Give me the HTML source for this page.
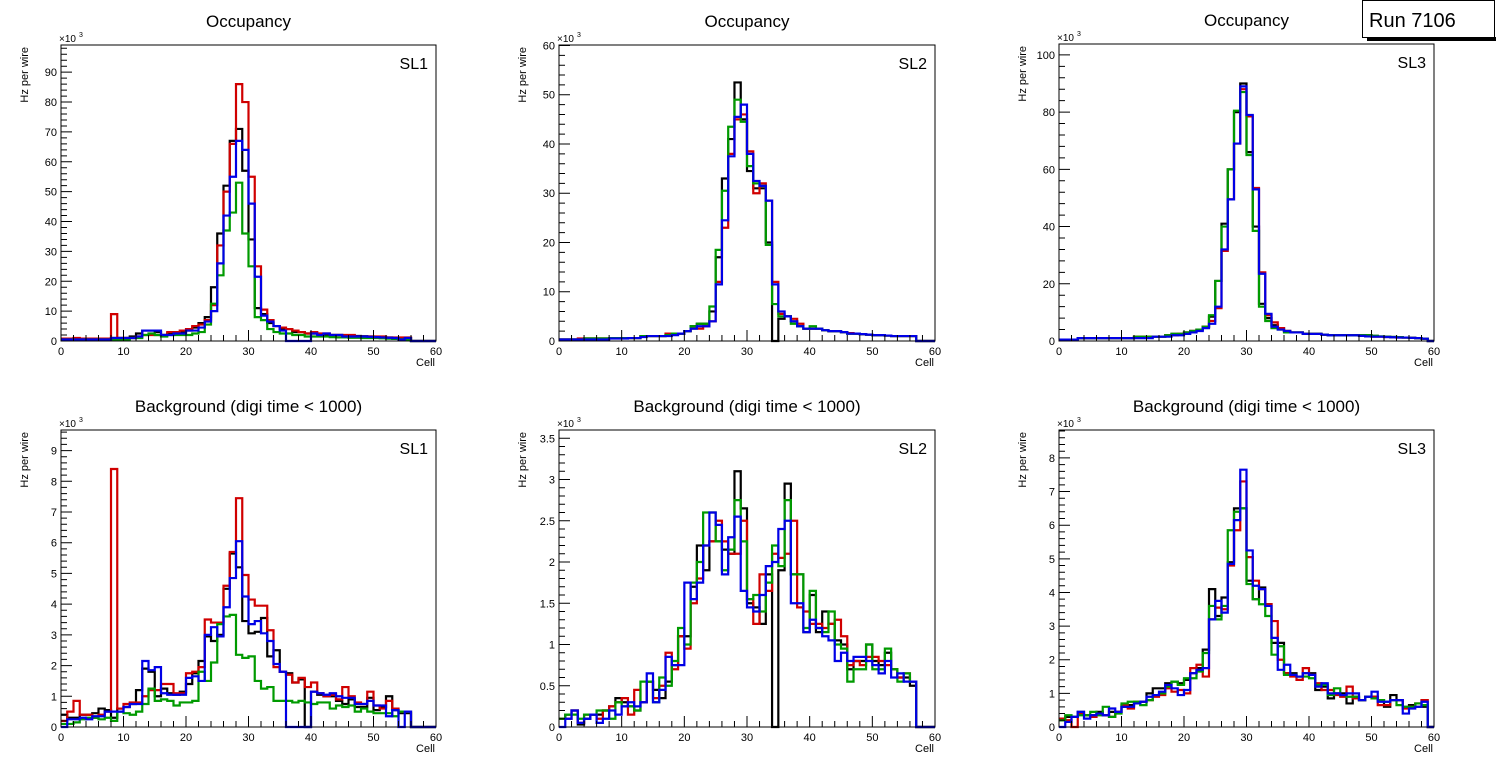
<!DOCTYPE html>
<html><head><meta charset="utf-8"><style>
body{margin:0;background:#fff;}
svg{display:block;font-family:"Liberation Sans",sans-serif;}
</style></head><body>
<svg id="c" width="1496" height="772" viewBox="0 0 1496 772"></svg>
<script>
const nBins = 60;
const xTickLabels = ["0","10","20","30","40","50","60"];
const tlBlack=[0.5,0.5,0.5,0.5,0.5,0.5,0.5,0.8,1,1,1,1.5,2.5,3.5,3.5,3,2,2.5,2.5,3,3.5,4.5,6,8,18,36,52,67,71,57,34,11,9,6,5,4,4,3,3,2.5,2.5,2.3,2.2,2,2,1.9,1.8,1.7,1.6,1.5,1.4,1.3,1.2,1.1,1,1,0,0,0,0];
const tlRed=[0.8,0.8,1,0.8,0.8,0.8,0.8,0.8,9,1,1,1,1.5,2,2,2,2,3,3,3.5,4,5,5.5,7,12,32,50,66,86,80,55,25,10.5,7,5,4.5,4,3.5,3,2.5,3,2.5,2.5,2,2,2,2,1.5,1.5,1.5,1.5,1.5,1.2,1.2,1.2,1.2,0,0,0,0];
const tlGreen=[0.5,0.5,0.5,0.5,0.5,0.5,0.5,0.5,0.5,0.5,0.5,1,1,2,2.5,2,1.5,2,2,2,2,2.5,3,5.5,12.5,22,37,43,53,36,25,8,7,4,3,2.5,2.5,2,2,1.5,1.5,1.5,1.5,1.3,1.2,1.2,1.1,1.1,1,1,1,0.9,0.8,0.7,0.6,0.5,0,0,0,0];
const tlBlue=[0.5,0.5,0.5,0.5,0.5,0.5,0.5,0.5,1,1,1,1,1.5,3.5,3.5,3.5,2,2,2.5,2.5,3.5,3.5,4.5,6.5,10,26,42,55,67,64,46,21.5,8.5,6.5,5,3.5,0,0,0,0,2.5,2,2.5,2,2,1.5,1.5,1.5,1.5,1.4,1.3,1.2,1.1,1,0.5,1,0,0,0,0];
const tmBlack=[0.3,0.3,0.3,0.3,0.5,0.5,0.5,0.5,0.6,0.6,0.6,0.6,0.6,1,1,1,1,1.2,1.5,1.5,2,3,3.5,3.5,6,17,33,41,52.5,45,34.5,31,31,20,0,4.5,5,4,3,2.5,2.5,2.5,2.2,2,2,1.8,1.5,1.5,1.4,1.3,1.2,1.2,1.1,1,1,1,1,0,0,0];
const tmRed=[0.3,0.3,0.3,0.5,0.5,0.5,0.5,0.5,0.6,0.6,0.6,0.6,0.6,1,1,1,1,1.5,1.5,1.5,2,2.5,2.5,3,4,12,23,38,45,46,38.5,30,32,28.5,12,5.5,5,4.5,3.5,2.5,2.5,2.5,2.2,2,2,1.8,1.6,1.5,1.4,1.3,1.2,1.2,1.1,1,1,1,1,0,0,0];
const tmGreen=[0.3,0.3,0.3,0.3,0.5,0.5,0.5,0.5,0.6,0.6,0.6,0.6,0.6,1,1,1,1,1.2,1.5,1.5,2,3,3.5,3.5,7,18.5,30.5,43.5,49,44.5,35.5,32,31.5,19.5,7.5,5,5,3.5,3,2.5,3,2.5,2.2,2,2,1.8,1.5,1.5,1.4,1.3,1.2,1.2,1.1,1,1,1,1,0,0,0];
const tmBlue=[0.3,0.3,0.3,0.3,0.3,0.3,0.3,0.3,0.5,0.5,0.5,0.6,0.6,0.8,1,1,1,1,1.2,1.5,2,2.5,3,3,4,11.5,24.5,37.5,45.5,48,38,32.5,31.5,28.5,11.5,6,5,4,3,2.5,2.5,2.5,2.2,2,2,1.8,1.5,1.5,1.4,1.3,1.2,1.2,1.1,1,1,1,1,0,0,0];
const trBlack=[0.5,0.5,0.5,1,1,1,1,1,1,1,1,1,1.5,1.5,1.5,1.5,1.5,2,2.5,2.5,3,3.5,4,5,8.5,21,41,60,80,90,66,40,13,8,5.5,4.5,3.5,3,3,2.5,2.5,2.5,2.2,2,2,2,2,2,2,2,1.8,1.6,1.5,1.4,1.3,1.2,1.1,1,0.8,0];
const trRed=[0.5,0.5,0.3,1,1,1,1,1,1,1,1,1,1.5,1.5,1.5,1.5,1.5,2,2,2.5,3,3.5,4,5,7,11.5,31.5,49.5,69,88,78.5,53.5,24,9,6.5,4.5,3.5,3,3,2.5,2.5,2.5,2.2,2,2,2,2,2,1.8,1.6,1.5,1.5,1.4,1.3,1.2,1.2,1.1,1,0.8,0];
const trGreen=[0.5,0.5,0.5,1,1,1,1,1,1,1,1,1,1.5,1.5,1.5,1.5,1.5,2,2.5,2.5,3,3.5,4,5,9,21,40,60,80.5,87,65,38.5,12,7,4.5,4,3,3,3,2.5,2.5,2.5,2.2,2,2,2,2,2,2,2,1.8,1.6,1.5,1.4,1.3,1.2,1.1,1,0.8,0];
const trBlue=[0.5,0.5,0.5,1,1,1,1,1,1,1,1,1,1,1,1,1.5,1.5,1.5,2,2,2.5,3,3.5,4.5,6,12,32,49.5,69,89,79,53,23.5,9.5,5,4,3.5,3,3,2.5,2.5,2.5,2.2,2,2,2,2,2,1.8,1.6,1.5,1.5,1.4,1.3,1.2,1.2,1.1,1,0.8,0];
const blBlack=[0.4,0.3,0.3,0.4,0.4,0.45,0.6,0.55,0.3,0.6,0.65,0.75,1.2,1.9,1.8,1.0,1.25,1.1,1.05,1.15,1.4,1.75,2.15,2.95,2.8,3.0,4.5,5.65,5.2,3.45,3.05,3.1,3.55,2.3,2.5,1.8,1.75,1.45,1.55,0,1.15,1.05,1.0,1.0,0.85,0.75,0.9,0.65,0.65,0.95,0.55,0.65,1.0,0.55,0.45,0.45,0,0,0,0];
const blRed=[0.2,0.5,0.85,0.4,0.4,0.3,0.4,0.5,8.4,0.6,0.75,0.8,0.8,1.0,1.2,1.2,1.4,1.4,1.1,1.1,1.75,1.8,1.95,3.5,3.4,3.4,4.6,5.7,7.45,4.95,4.15,3.95,3.95,3.15,1.95,1.8,1.7,1.45,1.6,1.3,1.45,1.1,1.0,1.05,0.9,1.3,1.0,0.8,0.75,1.15,0.7,0.6,0.85,0.6,0.5,0.5,0,0,0,0];
const blGreen=[0.1,0.1,0.15,0.25,0.3,0.3,0.25,0.3,0.2,0.5,0.45,0.4,0.5,0.75,1.25,0.85,0.9,0.85,0.7,0.8,0.8,0.85,1.8,1.5,2.1,3.35,3.6,3.65,2.35,2.25,2.3,1.5,1.25,1.3,0.85,0.85,0.85,0.8,0.85,0.8,0.75,0.8,0.8,0.6,0.7,0.65,0.7,0.5,0.6,0.5,0.45,0.45,0.45,0.35,0.5,0.5,0,0,0,0];
const blBlue=[0,0.25,0.25,0.3,0.25,0.35,0.35,0.5,0.5,0.5,0.65,0.75,0.75,2.15,1.85,1.95,1.1,1.05,1.05,1.05,1.6,1.65,1.5,3.0,3.25,2.95,3.9,4.85,6.05,4.25,3.35,3.45,3.05,2.8,2.05,1.8,0,0,0,0,1.15,1.1,1.05,1.1,1.0,0.95,0.95,0.75,0.75,0.85,0.7,0.7,0.35,0.55,0,0.5,0,0,0,0];
const bmBlack=[0.1,0.15,0.2,0.03,0.1,0.15,0.15,0.2,0.25,0.35,0.3,0.25,0.2,0.3,0.55,0.45,0.35,0.55,0.75,1.1,1.1,1.7,2.2,1.9,2.25,2.25,2.15,2.1,3.1,2.65,1.5,1.45,1.25,1.85,0,1.9,2.95,1.85,1.85,1.15,1.6,1.15,1.4,1.25,1.05,1.0,0.7,0.8,0.8,1.0,0.8,0.75,0.9,0.7,0.6,0.6,0.5,0,0,0];
const bmRed=[0.1,0.1,0.2,0.05,0.15,0.15,0.1,0.2,0.25,0.3,0.35,0.15,0.45,0.3,0.55,0.35,0.5,0.9,0.7,1.1,0.95,1.5,1.8,2.2,2.25,2.5,2.25,2.1,2.1,2.5,1.55,1.25,1.85,1.65,2.1,2.05,2.1,2.5,1.45,1.4,1.25,1.25,1.2,1.25,1.3,1.1,0.75,0.8,0.75,0.85,0.85,0.8,0.75,0.7,0.6,0.65,0.55,0,0,0];
const bmGreen=[0.1,0.15,0.15,0.1,0.15,0.15,0.2,0.2,0.1,0.3,0.25,0.25,0.2,0.55,0.55,0.3,0.6,0.5,0.8,1.2,1.0,1.75,2.0,2.6,2.6,2.25,1.9,2.15,2.75,2.25,1.55,1.6,1.4,1.75,2.2,1.95,2.75,1.85,1.85,1.2,1.65,1.2,1.15,1.4,1.0,0.95,0.55,0.7,0.7,1.0,0.7,0.7,0.95,0.7,0.55,0.65,0.55,0,0,0];
const bmBlue=[0,0.1,0.2,0.05,0.1,0.15,0.05,0.1,0.2,0.15,0.25,0.3,0.25,0.3,0.65,0.3,0.45,0.85,0.75,0.75,1.75,1.55,1.75,2.2,2.6,2.45,1.85,2.3,2.55,1.65,1.45,1.4,1.6,1.95,2.0,2.4,2.5,1.5,1.5,1.15,1.3,1.2,1.1,1.05,0.8,0.9,0.8,0.85,0.85,0.8,0.75,0.65,0.8,0.6,0.65,0.55,0.55,0,0,0];
const brBlack=[0.2,0.3,0.3,0.45,0.35,0.35,0.45,0.35,0.45,0.45,0.6,0.65,0.7,0.75,1.0,1.15,1.15,1.3,1.35,1.3,1.4,1.6,1.75,2.3,4.1,3.3,3.85,4.9,6.5,6.5,4.35,3.8,4.15,3.65,2.5,2.5,1.6,1.6,1.5,1.6,1.6,1.1,1.2,0.85,1.0,1.0,0.7,0.9,0.8,0.9,0.9,0.8,0.6,0.95,0.8,0.6,0.65,0.6,0.6,0];
const brRed=[0.25,0.2,0,0.4,0.35,0.3,0.4,0.35,0.3,0.45,0.65,0.55,0.75,0.75,0.8,0.9,0.95,1.15,1.05,1.1,1.0,1.75,1.85,1.5,3.2,3.55,3.5,4.8,5.85,7.3,5.05,4.35,4.1,3.65,3.15,2.0,1.6,1.5,1.4,1.75,1.55,1.3,1.1,1.1,0.95,0.9,1.2,0.85,0.8,0.9,0.9,0.65,0.65,0.8,0.8,0.55,0.6,0.7,0.8,0];
const brGreen=[0.2,0.35,0.3,0.35,0.35,0.45,0.35,0.6,0.3,0.4,0.7,0.75,0.75,0.65,0.8,0.95,1.0,1.2,1.35,1.25,1.45,1.45,1.65,2.2,3.6,3.2,3.6,5.85,6.4,6.5,4.25,3.8,3.65,3.3,2.15,2.4,1.55,1.55,1.5,1.5,1.45,1.25,1.25,0.95,1.15,0.95,0.9,0.9,0.8,0.9,0.85,0.8,0.75,0.8,0.65,0.6,0.6,0.7,0.65,0];
const brBlue=[0,0.15,0.3,0.45,0.25,0.35,0.4,0.35,0.55,0.45,0.6,0.6,0.7,0.75,0.9,0.95,1.05,1.25,1.15,0.95,1.1,1.6,1.7,1.75,3.2,3.75,3.4,4.85,6.15,7.65,5.25,4.2,4.1,3.6,2.65,1.7,1.85,1.55,1.5,1.6,1.55,1.2,1.3,1.0,1.0,0.95,1.0,1.0,0.8,0.9,1.05,0.75,0.75,0.8,0.8,0.4,0.55,0.6,0.75,0];

const NS='http://www.w3.org/2000/svg';
const svg=document.getElementById('c');
function mk(tag,attrs,parent){const e=document.createElementNS(NS,tag);for(const k in attrs)e.setAttribute(k,attrs[k]);(parent||svg).appendChild(e);return e;}
const colors=['#000000','#d00000','#009a00','#0000e6'];
const seriesNames=['black','red','green','blue'];
const panels=[
 {id:'sl1-occupancy',title:'Occupancy',sl:'SL1',x0:61,x1:436,yT:45,yB:341,ymax:99.1,maj:10,min:2,labels:['0','10','20','30','40','50','60','70','80','90'],data:[tlBlack,tlRed,tlGreen,tlBlue]},
 {id:'sl2-occupancy',title:'Occupancy',sl:'SL2',x0:559,x1:935,yT:45,yB:341,ymax:60.1,maj:10,min:2,labels:['0','10','20','30','40','50','60'],data:[tmBlack,tmRed,tmGreen,tmBlue]},
 {id:'sl3-occupancy',title:'Occupancy',sl:'SL3',x0:1059,x1:1434,yT:44,yB:341,ymax:103.8,maj:20,min:4,labels:['0','20','40','60','80','100'],data:[trBlack,trRed,trGreen,trBlue]},
 {id:'sl1-background',title:'Background (digi time < 1000)',sl:'SL1',x0:61,x1:436,yT:430,yB:727,ymax:9.67,maj:1,min:0.2,labels:['0','1','2','3','4','5','6','7','8','9'],data:[blBlack,blRed,blGreen,blBlue]},
 {id:'sl2-background',title:'Background (digi time < 1000)',sl:'SL2',x0:559,x1:935,yT:430,yB:727,ymax:3.6,maj:0.5,min:0.1,labels:['0','0.5','1','1.5','2','2.5','3','3.5'],data:[bmBlack,bmRed,bmGreen,bmBlue]},
 {id:'sl3-background',title:'Background (digi time < 1000)',sl:'SL3',x0:1059,x1:1434,yT:430,yB:727,ymax:8.83,maj:1,min:0.2,labels:['0','1','2','3','4','5','6','7','8'],data:[brBlack,brRed,brGreen,brBlue]}
];
panels.forEach(p=>{
  const g=mk('g',{});
  
  
  const X=v=>p.x0+(p.x1-p.x0)*v/nBins;
  const Y=v=>p.yB-(p.yB-p.yT)*Math.min(v,p.ymax)/p.ymax;
  const cx=(p.x0+p.x1)/2;
  const t=mk('text',{x:cx,y:p.yT-18,'font-size':17,'text-anchor':'middle'},g);t.textContent=p.title;
  
  p.data.forEach((arr,si)=>{
    let d='M'+X(0)+','+Y(arr[0]);
    for(let i=0;i<nBins;i++){d+=' H'+X(i+1);if(i+1<nBins)d+=' V'+Y(arr[i+1]);}
    const path=mk('path',{d:d,fill:'none',stroke:colors[si],'stroke-width':2.2,'stroke-linejoin':'miter'},g);
    
    
  });
  const fr=mk('rect',{x:p.x0,y:p.yT,width:p.x1-p.x0,height:p.yB-p.yT,fill:'none',stroke:'#000','stroke-width':1},g);
  
  let tk='';
  for(let v=0;v<=nBins+0.001;v+=2){const len=(v%10===0)?11:6;tk+='M'+X(v)+','+p.yB+' v'+(-len)+' ';}
  const nMin=Math.round(p.ymax/p.min);
  for(let k=0;k<=nMin;k++){const v=k*p.min;const isMaj=Math.abs(v/p.maj-Math.round(v/p.maj))<1e-6;const len=isMaj?11:6;tk+='M'+p.x0+','+Y(v)+' h'+len+' ';}
  const ticks=mk('path',{d:tk,stroke:'#000','stroke-width':1,fill:'none'},g);
  
  xTickLabels.forEach((l,i)=>{const e=mk('text',{x:X(i*10),y:p.yB+14,'font-size':11,'text-anchor':'middle'},g);e.textContent=l;
    });
  p.labels.forEach((l,i)=>{const v=i*p.maj;const e=mk('text',{x:p.x0-4,y:Y(v)+4,'font-size':11,'text-anchor':'end'},g);e.textContent=l;
    });
  const xt=mk('text',{x:p.x1-1,y:p.yB+25,'font-size':11,'text-anchor':'end'},g);xt.textContent='Cell';
  
  const yt=mk('text',{x:0,y:0,'font-size':11,'text-anchor':'end',transform:'translate('+(p.x0-33)+','+(p.yT+2)+') rotate(-90)'},g);yt.textContent='Hz per wire';
  
  const ex=mk('text',{x:p.x0-2,y:p.yT-3,'font-size':10},g);ex.textContent='×10';
  
  const ex3=mk('text',{x:p.x0+18,y:p.yT-8,'font-size':7},g);ex3.textContent='3';
  
  const sl=mk('text',{x:p.x1-8,y:p.yT+24,'font-size':16,'text-anchor':'end'},g);sl.textContent=p.sl;
  
});
const rb=mk('g',{});


mk('rect',{x:1367,y:37,width:129,height:4,fill:'#000'},rb);
mk('rect',{x:1362.5,y:0.5,width:132,height:37,fill:'#fff',stroke:'#000','stroke-width':1},rb);
const rt=mk('text',{x:1369,y:27,'font-size':20},rb);rt.textContent='Run 7106';

</script>
</body></html>
